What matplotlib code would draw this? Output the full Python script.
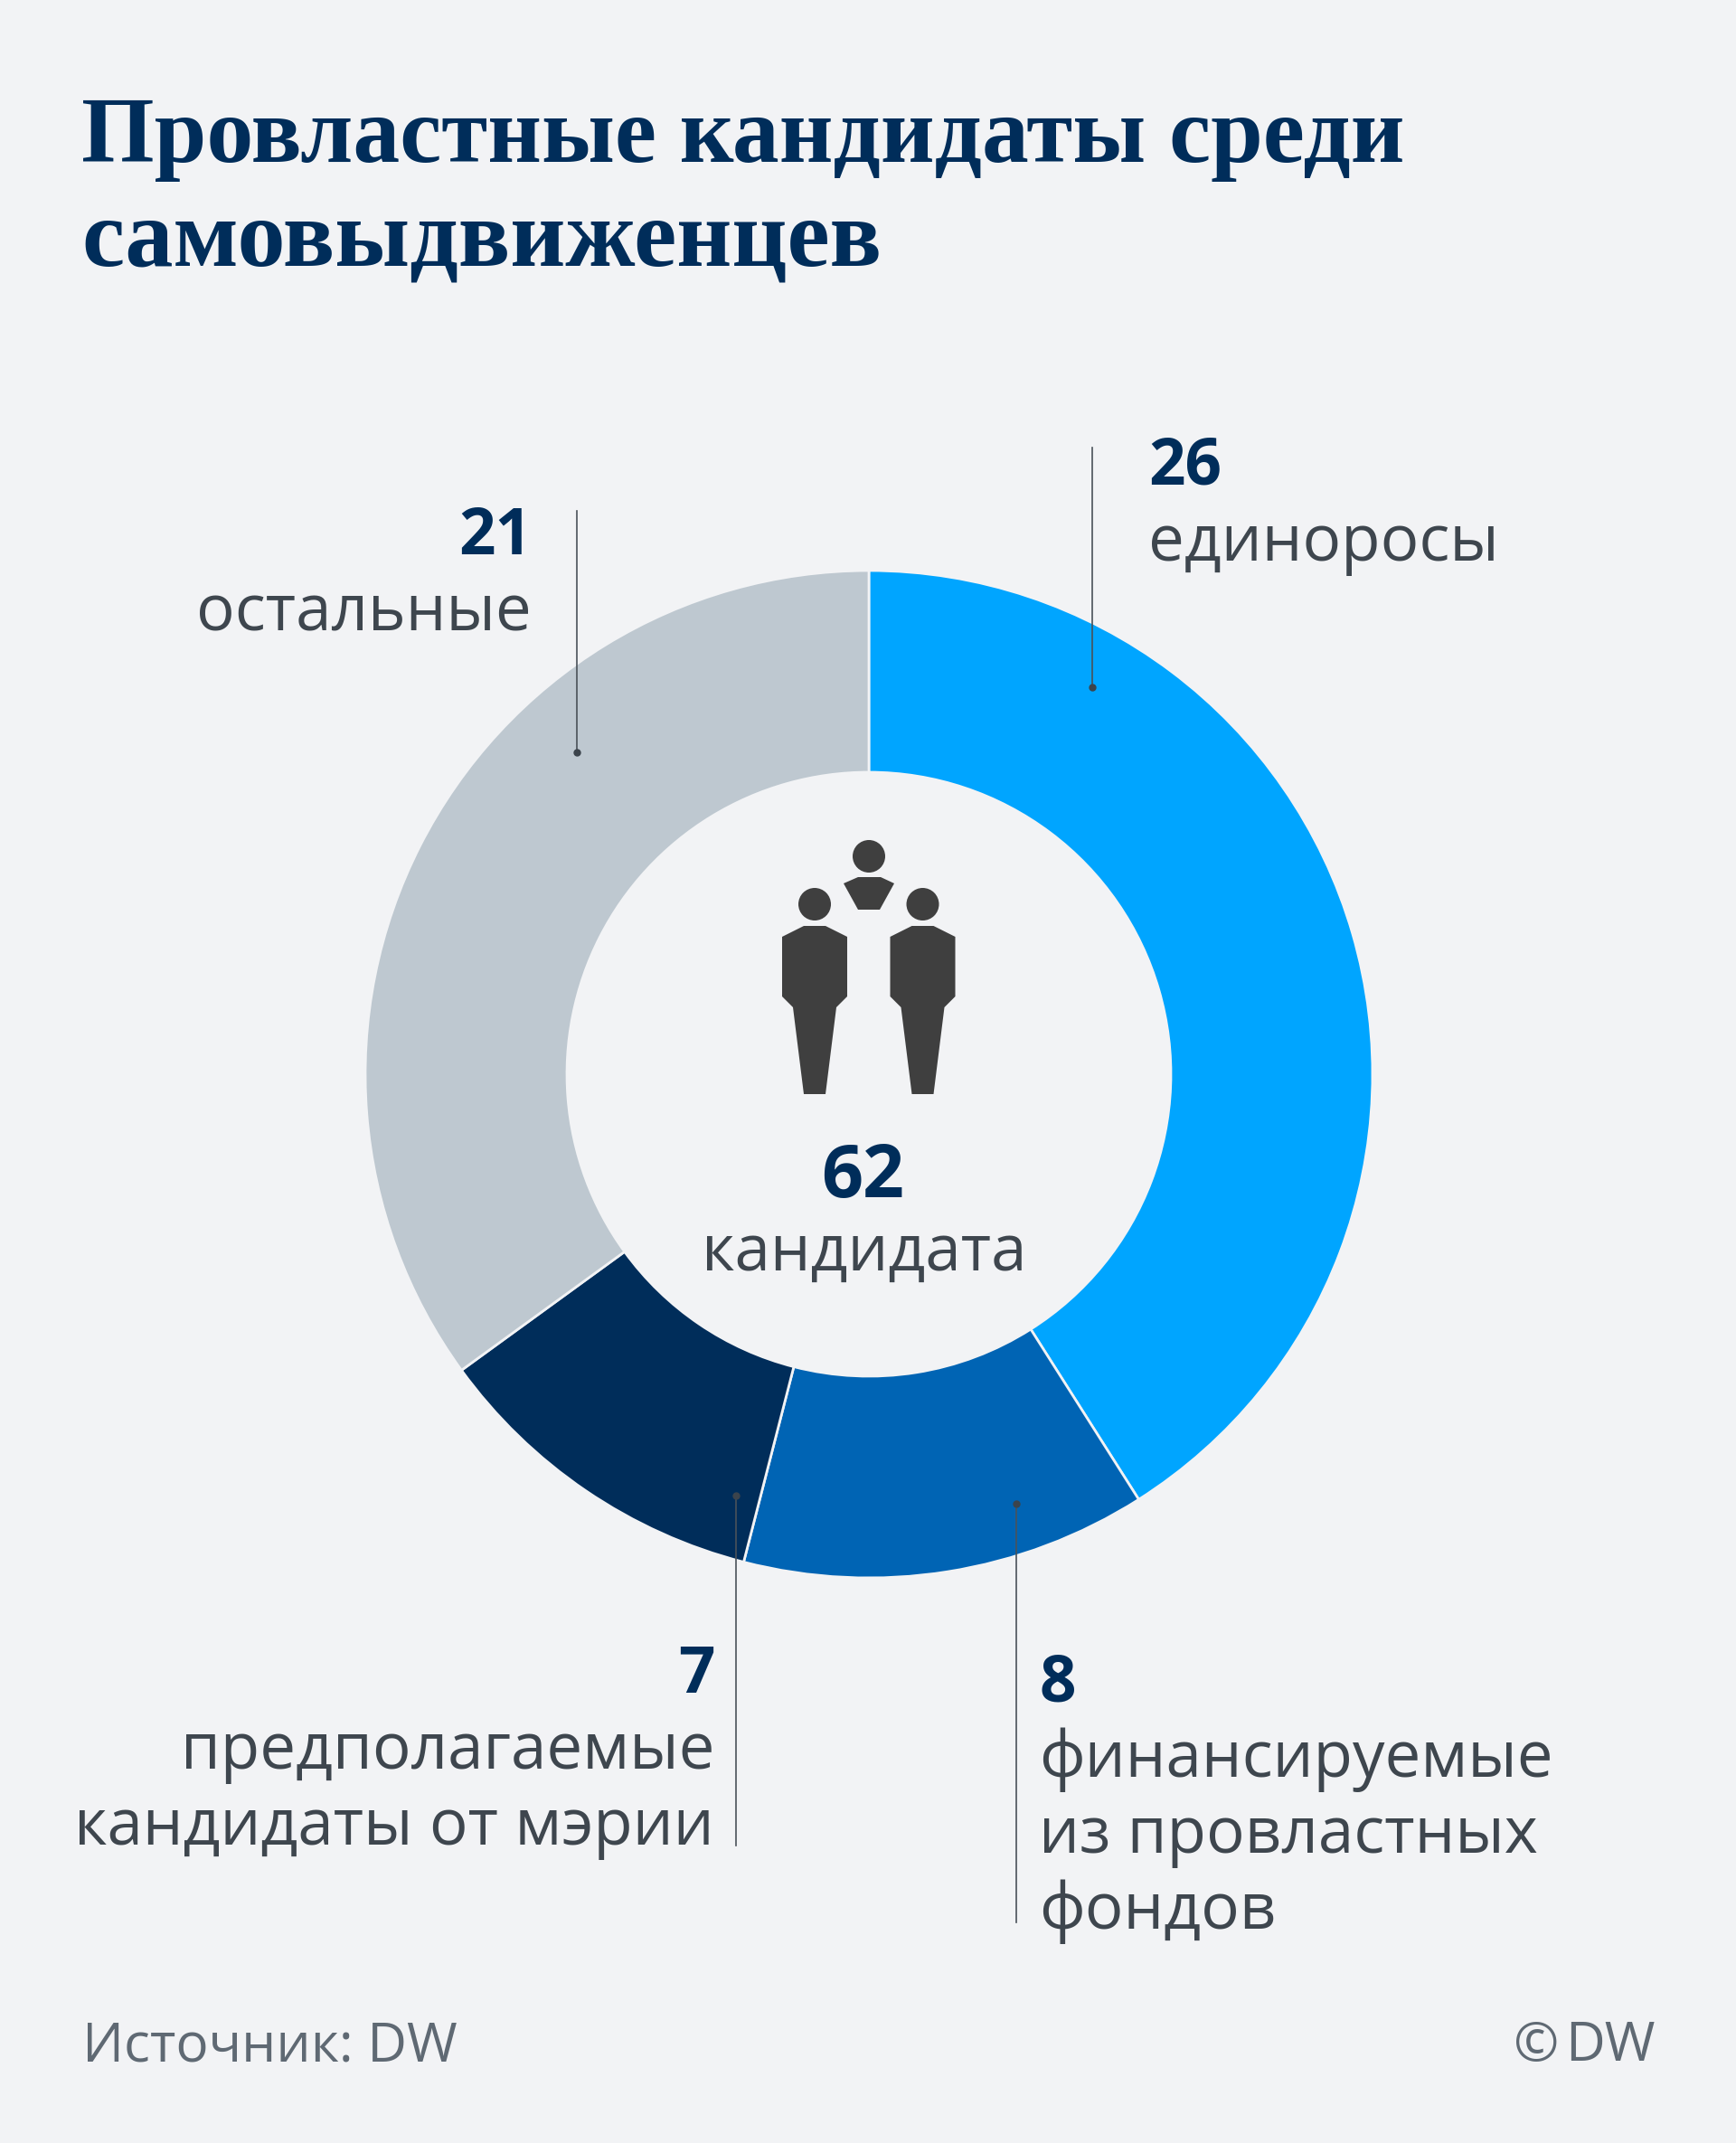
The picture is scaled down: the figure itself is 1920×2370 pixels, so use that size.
import matplotlib
matplotlib.use('Agg')
import matplotlib.pyplot as plt
from matplotlib.patches import Circle, Polygon

# data
# the ring is drawn from percent shares, the printed numbers are counts
shares = [41, 13, 11, 35]
colors = ['#00A5FF', '#0064B4', '#002D5A', '#BEC8D0']
numbers = ['26', '8', '7', '21']
labels = ['единоросы', 'финансируемые\nиз провластных\nфондов',
          'предполагаемые\nкандидаты от мэрии', 'остальные']
total = 62
total_label = 'кандидата'
title = 'Провластные кандидаты среди\nсамовыдвиженцев'

BG = '#F2F3F5'
NAVY = '#002D5A'
GREY = '#3E464E'
H = 2370

fig = plt.figure(figsize=(19.2, 23.7), dpi=100, facecolor=BG)
ax = fig.add_axes([0, 0, 1, 1])

# donut
ax.pie(shares, colors=colors, center=(961, H - 1188), radius=557, startangle=90,
       counterclock=False, wedgeprops=dict(width=223, edgecolor=BG, linewidth=2))
ax.set_xlim(0, 1920)
ax.set_ylim(0, H)
ax.axis('off')


def txt(x, y, s, **kw):
    ax.text(x, H - y, s, family=kw.pop('family', 'Open Sans'), va='baseline', **kw)


txt(90, 179, title.split('\n')[0], family='Liberation Serif', fontweight='bold', fontsize=74.6,
    color=NAVY, ha='left')
txt(90, 294, title.split('\n')[1], family='Liberation Serif', fontweight='bold', fontsize=76.5,
    color=NAVY, ha='left')

NUM = 51
LAB = 51
LINE = 84

# leader lines, top to bottom in pixels
leaders = [(1208, 495, 760), (1123.5, 2126, 1663), (814, 2041, 1654), (638, 565, 832)]
for x, y0, y1 in leaders:
    ax.plot([x, x], [H - y0, H - y1], color='#4A5259', lw=1.2, zorder=5)
    ax.plot([x], [H - y1], 'o', color='#3C444C', ms=5, zorder=5)

# labels
txt(1270, 536, numbers[0], fontsize=NUM, fontweight='bold', color=NAVY)
txt(1270, 620, labels[0], fontsize=LAB, color=GREY)

txt(1149, 1881, numbers[1], fontsize=NUM, fontweight='bold', color=NAVY)
for i, s in enumerate(labels[1].split('\n')):
    txt(1149, 1965 + i * LINE, s, fontsize=LAB, color=GREY)

txt(790, 1872, numbers[2], fontsize=NUM, fontweight='bold', color=NAVY, ha='right')
for i, s in enumerate(labels[2].split('\n')):
    txt(790, 1956 + i * LINE, s, fontsize=LAB, color=GREY, ha='right')

txt(588, 613, numbers[3], fontsize=NUM, fontweight='bold', color=NAVY, ha='right')
txt(588, 697, labels[3], fontsize=LAB, color=GREY, ha='right')

# centre
txt(954, 1324, str(total), fontsize=58, fontweight='bold', color=NAVY, ha='center')
txt(955.5, 1405, total_label, fontsize=51, color=GREY, ha='center')

# footer
txt(91, 2279, 'Источник: DW', fontsize=43.5, color='#5F6973')
txt(1831, 2279, 'DW', fontsize=43.5, color='#5F6973', ha='right')
txt(1674, 2279, '©', fontsize=43.5, color='#5F6973', ha='left')

# people icon (crop pixels / 3 + offset)
ICON = '#3F3F3F'


def person(cx):
    body = [(-36, 36), (-12, 24), (12, 24), (36, 36), (36, 102), (24, 114),
            (12, 210), (-12, 210), (-24, 114), (-36, 102)]
    ax.add_patch(Polygon([(cx + a, H - (1000 + b)) for a, b in body], fc=ICON, ec='none', zorder=6))
    ax.add_patch(Circle((cx, H - 1000), 18, fc=ICON, ec='none', zorder=6))


person(901)
person(1020.5)
ax.add_patch(Circle((961, H - 947), 18, fc=ICON, ec='none', zorder=6))
top = [(933, 977), (949, 970), (974, 970), (989, 977), (973, 1006), (949, 1006)]
ax.add_patch(Polygon([(x, H - y) for x, y in top], fc=ICON, ec='none', zorder=6))

fig.savefig('out.png', dpi=100, facecolor=BG)
